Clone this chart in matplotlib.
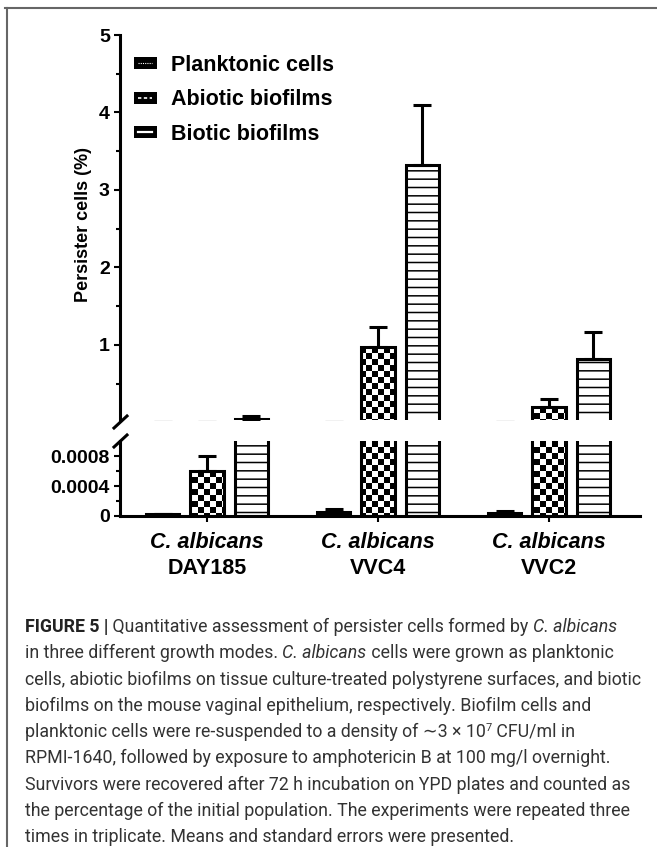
import matplotlib
matplotlib.use("Agg")
import matplotlib.pyplot as plt
import numpy as np
from matplotlib.patches import Patch
from matplotlib.lines import Line2D
from matplotlib.patches import Rectangle
from matplotlib.legend_handler import HandlerBase
import matplotlib.transforms as mtransforms

# ---------------- data ----------------
strains = ["DAY185", "VVC4", "VVC2"]
species = "C. albicans"
series = ["Planktonic cells", "Abiotic biofilms", "Biotic biofilms"]
planktonic_mean = [0.00003, 0.00005, 0.00004]
planktonic_err = [0.0, 0.00005, 0.00003]
abiotic_mean = [0.0006, 0.97, 0.20]
abiotic_err = [0.0002, 0.26, 0.10]
biotic_mean = [0.045, 3.32, 0.82]
biotic_err = [0.035, 0.77, 0.34]
upper_ticks = [1, 2, 3, 4, 5]
upper_minor = [0.5, 1.5, 2.5, 3.5, 4.5]
lower_ticks = [0, 0.0004, 0.0008]
lower_tick_labels = ["0", "0.0004", "0.0008"]
lower_minor = [0.0002, 0.0006]
ylabel = "Persister cells (%)"

caption_lines = [
    [("FIGURE 5 |", "b"), (" Quantitative assessment of persister cells formed by ", "n"), ("C. albicans", "i")],
    [("in three different growth modes. ", "n"), ("C. albicans", "i"), (" cells were grown as planktonic", "n")],
    [("cells, abiotic biofilms on tissue culture-treated polystyrene surfaces, and biotic", "n")],
    [("biofilms on the mouse vaginal epithelium, respectively. Biofilm cells and", "n")],
    [("planktonic cells were re-suspended to a density of \u223c3 \u00d7 10", "n"), ("7", "sup"), (" CFU/ml in", "n")],
    [("RPMI-1640, followed by exposure to amphotericin B at 100 mg/l overnight.", "n")],
    [("Survivors were recovered after 72 h incubation on YPD plates and counted as", "n")],
    [("the percentage of the initial population. The experiments were repeated three", "n")],
    [("times in triplicate. Means and standard errors were presented.", "n")],
]

# ---------------- setup ----------------
plt.rcParams["font.family"] = ["Liberation Sans", "DejaVu Sans"]
plt.rcParams["font.weight"] = "bold"
plt.rcParams["hatch.linewidth"] = 1.1

W, H = 657, 847
fig = plt.figure(figsize=(W / 100, H / 100), dpi=100)


def fx(px):
    return px / W


def fy(py):
    return 1 - py / H


AX_L, AX_R = 120, 640
UP_TOP, UP_BOT = 35, 420
LO_TOP, LO_BOT = 441, 516
ax_up = fig.add_axes([fx(AX_L), fy(UP_BOT), (AX_R - AX_L) / W, (UP_BOT - UP_TOP) / H])
ax_lo = fig.add_axes([fx(AX_L), fy(LO_BOT), (AX_R - AX_L) / W, (LO_BOT - LO_TOP) / H])

x = np.arange(len(strains))
off = 0.26
bw = 0.195
LW = 2.2
XLIM = (-0.509, 2.532)


def checker(ax, rect, cell=6):
    w = ax.bbox.width
    h = ax.bbox.height
    nx = int(w / cell) + 2
    ny = int(h / cell) + 2
    arr = np.add.outer(np.arange(ny), np.arange(nx)) % 2
    im = ax.imshow(arr, cmap="gray", vmin=0, vmax=1, interpolation="nearest",
                   extent=(0, nx * cell / w, 1 - ny * cell / h, 1), origin="upper",
                   transform=ax.transAxes, aspect="auto", zorder=2.5)
    im.set_clip_path(rect.get_path(), rect.get_transform())


def draw(ax, ylim):
    ax.bar(x - off, planktonic_mean, bw, color="black", edgecolor="black", lw=LW, zorder=2)
    ab = ax.bar(x, abiotic_mean, bw, color="white", edgecolor="none", lw=0, zorder=2)
    ax.set_xlim(*XLIM)
    ax.set_ylim(*ylim)
    for r in ab:
        checker(ax, r)
    ax.bar(x, abiotic_mean, bw, fill=False, edgecolor="black", lw=LW, zorder=4)
    ax.bar(x + off, biotic_mean, bw, color="white", edgecolor="black", hatch="--", lw=LW, zorder=2)
    for xs, m, e in [(x - off, planktonic_mean, planktonic_err),
                     (x, abiotic_mean, abiotic_err),
                     (x + off, biotic_mean, biotic_err)]:
        ax.errorbar(xs, m, yerr=[np.zeros(len(e)), e], fmt="none", ecolor="black",
                    elinewidth=LW, capsize=6.5, capthick=LW, zorder=3)
    ax.set_xlim(*XLIM)
    ax.set_ylim(*ylim)
    for s in ["top", "right"]:
        ax.spines[s].set_visible(False)
    ax.spines["left"].set_linewidth(LW)
    ax.tick_params(axis="y", which="major", length=4.3, width=1.5, labelsize=14, pad=3)
    ax.tick_params(axis="y", which="minor", length=3.0, width=1.5)


draw(ax_up, (0.03, 5.0))
draw(ax_lo, (0.0, 0.001))

# upper axis
ax_up.spines["bottom"].set_visible(False)
ax_up.set_xticks([])
ax_up.set_yticks(upper_ticks)
ax_up.set_yticklabels([str(t) for t in upper_ticks])
ax_up.set_yticks(upper_minor, minor=True)

# lower axis
ax_lo.spines["bottom"].set_linewidth(LW)
ax_lo.set_yticks(lower_ticks)
ax_lo.set_yticklabels(lower_tick_labels)
ax_lo.set_yticks(lower_minor, minor=True)
ax_lo.set_xticks(x)
ax_lo.set_xticklabels([""] * len(x))
ax_lo.tick_params(axis="x", which="major", length=4.3, width=1.5)

# group labels
tr = mtransforms.blended_transform_factory(ax_lo.transData, fig.transFigure)
for xi, s in zip(x, strains):
    ax_lo.text(xi, fy(542), species, transform=tr, ha="center", va="center",
               fontsize=15.5, fontweight="bold", fontstyle="italic")
    ax_lo.text(xi, fy(568), s, transform=tr, ha="center", va="center",
               fontsize=15.5, fontweight="bold")

# y label
fig.text(fx(84), fy(225), ylabel, rotation=90, ha="center", va="center",
         fontsize=13, fontweight="bold")

# axis break marks
for y0 in (428, 447):
    fig.add_artist(Line2D([fx(114), fx(127)], [fy(y0), fy(y0 - 12)],
                          transform=fig.transFigure, color="black", lw=LW))


# legend
class BoxHandler(HandlerBase):
    def __init__(self, ls, lw):
        super().__init__()
        self.ls = ls
        self.lw = lw

    def create_artists(self, legend, orig_handle, xdescent, ydescent, width, height, fontsize, trans):
        r = Rectangle((-xdescent, -ydescent), width, height, facecolor="black",
                      edgecolor="black", lw=0, transform=trans)
        ln = Line2D([-xdescent + 3, -xdescent + width - 3], [-ydescent + height / 2] * 2,
                    color="white", lw=self.lw, ls=self.ls, transform=trans)
        return [r, ln]


h1, h2, h3 = Patch(), Patch(), Patch()
ax_up.legend([h1, h2, h3], series, loc="upper left",
             bbox_to_anchor=(fx(134), fy(55)), bbox_transform=fig.transFigure,
             frameon=False, borderpad=0, borderaxespad=0, handlelength=1.05,
             handleheight=0.5, handletextpad=0.65, labelspacing=0.62,
             prop={"family": "Liberation Sans", "weight": "bold", "size": 15.5},
             handler_map={h1: BoxHandler((0, (1, 1)), 0.8),
                          h2: BoxHandler((0, (2, 1.5)), 1.2),
                          h3: BoxHandler("-", 1.6)})

# border lines
fig.add_artist(Line2D([fx(5), 1], [fy(8), fy(8)], transform=fig.transFigure, color="#666666", lw=1.5))
fig.add_artist(Line2D([fx(7), fx(7)], [fy(8), 0], transform=fig.transFigure, color="#666666", lw=1.5))

# caption
renderer = fig.canvas.get_renderer()
CAP_FAMILY = ["Roboto", "DejaVu Sans"]
CAP_COLOR = "#333333"
CAP_X = 25
CAP_TARGET_W = 615  # width of the longest caption line in the reference
probe = fig.text(0, 0, caption_lines[2][0][0], family=CAP_FAMILY, size=12, fontweight="normal")
cap_size = 12 * CAP_TARGET_W / probe.get_window_extent(renderer).width
probe.remove()

for i, parts in enumerate(caption_lines):
    base = 632 + 26.25 * i
    xp = CAP_X
    for text, style in parts:
        kw = dict(family=CAP_FAMILY, size=cap_size, color=CAP_COLOR,
                  va="baseline", ha="left", fontweight="normal", fontstyle="normal")
        yp = base
        if style == "b":
            kw["fontweight"] = "bold"
            kw["color"] = "#222222"
        elif style == "i":
            kw["fontstyle"] = "italic"
        elif style == "sup":
            kw["size"] = cap_size * 0.62
            yp = base - 6
        t = fig.text(fx(xp), fy(yp), text, **kw)
        xp += t.get_window_extent(renderer).width

fig.savefig("out.png", dpi=100)
